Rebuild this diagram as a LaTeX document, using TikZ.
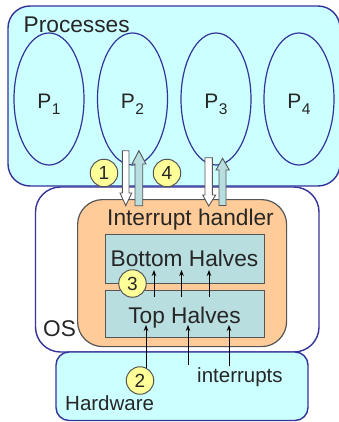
\documentclass[tikz,border=0pt]{standalone}
\usepackage{fontspec}
\setmainfont{Liberation Sans}
\usetikzlibrary{arrows.meta,shapes.geometric}
\definecolor{procfill}{HTML}{CCFFFF}
\definecolor{procline}{HTML}{333399}
\definecolor{orangefill}{HTML}{FFCC99}
\definecolor{grayline}{HTML}{555555}
\definecolor{halffill}{HTML}{B8DEE0}
\definecolor{yel}{HTML}{FFFF99}
\definecolor{txt}{HTML}{262626}
\begin{document}
\begin{tikzpicture}[x=1pt,y=-1pt,
  bigbox/.style={draw=procline,line width=1.4pt,anchor=north west,inner sep=0pt,outer sep=0pt},
  halfbox/.style={draw=grayline,fill=halffill,line width=1pt,anchor=north west,inner sep=0pt,outer sep=0pt,minimum width=159pt},
  lbl/.style={text=txt,inner sep=0pt,font=\fontsize{22.7}{26}\selectfont},
  smalllbl/.style={text=txt,inner sep=0pt,font=\fontsize{20.5}{24}\selectfont},
  proc/.style={draw=procline,line width=1.2pt,ellipse,minimum width=70pt,minimum height=132pt,inner sep=0pt},
  num/.style={circle,draw=grayline,fill=yel,line width=1pt,minimum size=27.5pt,inner sep=0pt,text=txt,font=\fontsize{19}{22}\selectfont},
  fatdown/.style={draw=grayline,fill=white,line width=0.9pt,line join=miter},
  fatup/.style={draw=grayline,fill=halffill,line width=0.9pt,line join=miter},
  thin/.style={draw=black,line width=0.9pt,-{Stealth[length=6pt,width=4.5pt]}}
]
\useasboundingbox (0,0) rectangle (339,422);
% OS box
\node[bigbox,fill=white,rounded corners=25pt,minimum width=283.5pt,minimum height=165pt] (os) at (35.5,187) {};
% Hardware box
\node[bigbox,fill=procfill,rounded corners=13pt,minimum width=252pt,minimum height=68.5pt] (hw) at (56,352) {};
% Processes box
\node[bigbox,fill=procfill,rounded corners=22pt,minimum width=332pt,minimum height=180pt] (procs) at (8,6) {};
\node[lbl,anchor=base west] (proclbl) at (23.5,32.3) {Processes};
% processes
\node[proc] (p1) at (49,99) {};
\node[proc] (p2) at (132.5,99) {};
\node[proc] (p3) at (216,99) {};
\node[proc] (p4) at (299,99) {};
\foreach \i/\xx in {1/49,2/132.5,3/216,4/299}{
  \node[text=txt,inner sep=0pt,anchor=base] (pl\i) at (\xx,108.3) {\fontsize{21}{24}\selectfont P\raisebox{-6.7pt}{\fontsize{15.5}{18}\selectfont\kern0.5pt\i}};
}
% interrupt handler
\node[draw=grayline,fill=orangefill,line width=1.2pt,rounded corners=25pt,anchor=north west,inner sep=0pt,minimum width=209pt,minimum height=147pt] (ih) at (77,199) {};
\node[lbl,anchor=base west] (ihlbl) at (107,225) {Interrupt handler};
\node[halfbox,minimum height=49.5pt] (bh) at (105,234) {};
\node[lbl,anchor=base] (bhlbl) at (184.5,266) {Bottom Halves};
\node[halfbox,minimum height=47pt] (th) at (105,290) {};
\node[lbl,anchor=base] (thlbl) at (184.5,323) {Top Halves};
\node[lbl,anchor=base west] (oslbl) at (43,336.7) {OS};
\node[smalllbl,anchor=base west] (hwlbl) at (65,410) {Hardware};
\node[smalllbl,anchor=base west] (intlbl) at (197,382) {interrupts};
% fat arrows
\draw[fatdown] (122.3,150.7) -- (129,150.7) -- (129,193) -- (131.7,193) -- (125.8,205.7) -- (120,193) -- (122.3,193) -- cycle;
\draw[fatup] (135,205.7) -- (142.7,205.7) -- (142.7,164) -- (146,164) -- (138.9,150.7) -- (132,164) -- (135,164) -- cycle;
\draw[fatdown] (205,157.7) -- (212.3,157.7) -- (212.3,195) -- (215.7,195) -- (208.7,206) -- (202.7,195) -- (205,195) -- cycle;
\draw[fatup] (219,205.5) -- (226,205.5) -- (226,170) -- (229.3,170) -- (222.6,158.3) -- (216,170) -- (219,170) -- cycle;
% small arrows top -> bottom halves
\foreach \k/\xx in {a/154,b/181.5,c/209}{
  \coordinate (s\k) at (\xx,297);
  \coordinate (e\k) at (\xx,270);
  \draw[thin] (s\k) -- (e\k);
}
% hardware -> top halves
\coordinate (h1s) at (146,368);
\coordinate (h1e) at (146,325);
\coordinate (h2s) at (188,365);
\coordinate (h2e) at (188,325);
\coordinate (h3s) at (229,366);
\coordinate (h3e) at (229,325);
\draw[thin] (h1s) -- (h1e);
\draw[thin] (h2s) -- (h2e);
\draw[thin] (h3s) -- (h3e);
% numbered circles
\node[num] (n1) at (104,173) {1};
\node[num] (n4) at (167,173) {4};
\node[num] (n3) at (132.5,283.5) {3};
\node[num] (n2) at (140,380.5) {2};
\end{tikzpicture}
\end{document}
